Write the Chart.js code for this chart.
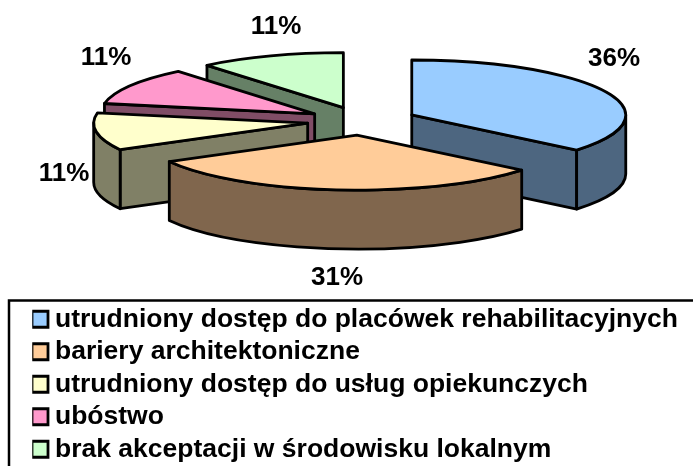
<!DOCTYPE html>
<html lang="pl">
<head>
<meta charset="utf-8">
<style>html,body{margin:0;padding:0;background:#fff;overflow:hidden}canvas{display:block}</style>
<script src="https://cdn.jsdelivr.net/npm/chart.js@4"></script>
</head>
<body>
<canvas id="c" width="693" height="466"></canvas>
<script>
const categories = [
  'utrudniony dostęp do placówek rehabilitacyjnych',
  'bariery architektoniczne',
  'utrudniony dostęp do usług opiekunczych',
  'ubóstwo',
  'brak akceptacji w środowisku lokalnym'
];
const values = [36, 31, 11, 11, 11];
const topColors = ['#99CCFF', '#FFCC99', '#FFFFCC', '#FF99CC', '#CCFFCC'];
const wallColors = ['#4D6680', '#80664D', '#808066', '#804D66', '#668066'];

const FONT = '"Liberation Sans", Arial, sans-serif';
const PIE = { cx: 362, cy: 121, squash: 0.257, depth: 59, explode: 55, radius: 214 };
const drawOrder = [4, 3, 2, 0, 1];
const labelCenters = [[614, 59], [337, 278], [64, 174], [106, 58], [276, 27]];

const pie3d = {
  id: 'pie3d',
  beforeDatasetDraw(chart) {
    const ctx = chart.ctx, arcs = chart.getDatasetMeta(0).data;
    const k = PIE.squash, d = PIE.depth;
    drawOrder.forEach(i => {
      const arc = arcs[i];
      const a0 = arc.startAngle, a1 = arc.endAngle, r = arc.outerRadius;
      const mid = (a0 + a1) / 2;
      const ox = PIE.cx + Math.cos(mid) * PIE.explode;
      const oy = PIE.cy + Math.sin(mid) * PIE.explode * k;
      const px = a => ox + Math.cos(a) * r;
      const py = a => oy + Math.sin(a) * r * k;
      ctx.save();
      ctx.lineWidth = 2.8;
      ctx.strokeStyle = '#000';
      ctx.lineJoin = 'round';
      ctx.fillStyle = wallColors[i];
      [[a0, Math.cos(a0) < -1e-6], [a1, Math.cos(a1) > 1e-6]].forEach(([a, show]) => {
        if (!show) return;
        ctx.beginPath();
        ctx.moveTo(ox, oy);
        ctx.lineTo(px(a), py(a));
        ctx.lineTo(px(a), py(a) + d);
        ctx.lineTo(ox, oy + d);
        ctx.closePath();
        ctx.fill();
        ctx.stroke();
      });
      const w0 = Math.max(a0, 0), w1 = Math.min(a1, Math.PI);
      if (w1 > w0) {
        ctx.beginPath();
        ctx.ellipse(ox, oy, r, r * k, 0, w0, w1);
        ctx.lineTo(px(w1), py(w1) + d);
        ctx.ellipse(ox, oy + d, r, r * k, 0, w1, w0, true);
        ctx.closePath();
        ctx.fill();
        ctx.stroke();
      }
      ctx.save();
      ctx.translate(ox, oy);
      ctx.scale(1, k);
      ctx.translate(-arc.x, -arc.y);
      arc.draw(ctx);
      ctx.restore();
      ctx.beginPath();
      ctx.moveTo(ox, oy);
      ctx.ellipse(ox, oy, r, r * k, 0, a0, a1);
      ctx.closePath();
      ctx.stroke();
      ctx.restore();
    });
    return false;
  },
  afterDraw(chart) {
    const ctx = chart.ctx;
    ctx.save();
    ctx.fillStyle = '#000';
    ctx.font = 'bold 26px ' + FONT;
    ctx.textAlign = 'center';
    ctx.textBaseline = 'middle';
    values.forEach((v, i) => ctx.fillText(v + '%', labelCenters[i][0], labelCenters[i][1]));
    ctx.strokeStyle = '#000';
    ctx.lineWidth = 2.5;
    ctx.strokeRect(9, 300.5, 800, 300);
    ctx.restore();
  }
};

new Chart(document.getElementById('c'), {
  type: 'pie',
  data: {
    labels: categories,
    datasets: [{ data: values, backgroundColor: topColors, borderWidth: 0 }]
  },
  options: {
    responsive: false,
    animation: false,
    radius: PIE.radius,
    events: [],
    layout: { padding: { left: 32.25, right: 10.75, top: 0, bottom: -6.5 } },
    plugins: {
      tooltip: { enabled: false },
      title: { display: false },
      legend: {
        display: true,
        position: 'bottom',
        align: 'start',
        labels: {
          color: '#000',
          font: { family: FONT, size: 26.5, weight: 'bold' },
          usePointStyle: true,
          boxWidth: 3.5,
          boxHeight: 16,
          padding: 6,
          generateLabels(chart) {
            return categories.map((t, i) => ({
              text: t, index: i, fillStyle: topColors[i], strokeStyle: '#000', lineWidth: 2.8,
              pointStyle: 'rect', hidden: false
            }));
          }
        }
      }
    }
  },
  plugins: [pie3d]
});
</script>
</body>
</html>
